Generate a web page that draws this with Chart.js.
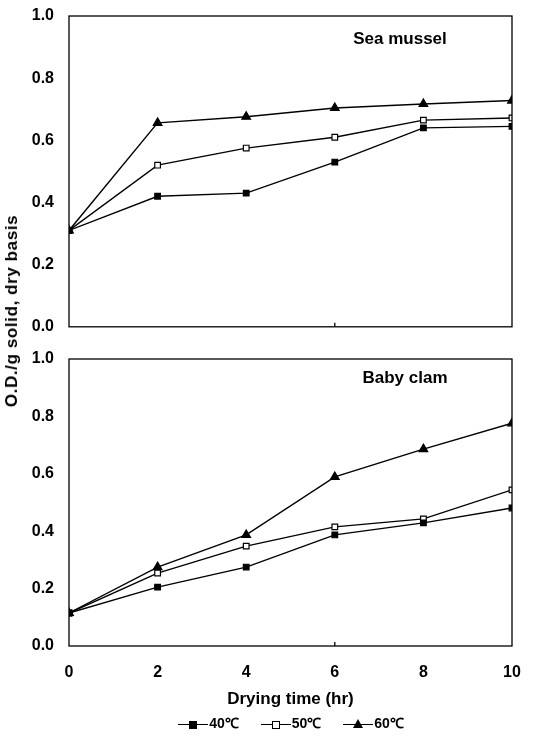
<!DOCTYPE html>
<html>
<head>
<meta charset="utf-8">
<script src="https://cdn.jsdelivr.net/npm/chart.js@4"></script>
<style>
  body { margin: 0; background: #fff; }
  #wrap { position: relative; width: 536px; height: 737px; font-family: "Liberation Sans", Arial, sans-serif; }
  #topBox { position: absolute; left: 0; top: 0; width: 536px; height: 333px; }
  #botBox { position: absolute; left: 0; top: 330px; width: 536px; height: 385px; }
  #yTitle {
    position: absolute; left: 12px; top: 311px;
    transform: translate(-50%, -50%) rotate(-90deg);
    white-space: nowrap; font-weight: bold; font-size: 17px; letter-spacing: 0.6px; color: #000;
  }
  #legend {
    position: absolute; left: 0; top: 713px; width: 536px; text-align: center;
    font-weight: bold; font-size: 14px; color: #000;
    padding-left: 46px; box-sizing: border-box;
  }
  .item { display: inline-block; margin: 0 9px; vertical-align: middle; }
  .key { display: inline-block; position: relative; width: 30px; height: 12px; vertical-align: middle; margin-right: 1px; }
  .key .ln { position: absolute; left: 0; right: 0; top: 6px; border-top: 1.4px solid #000; }
  .key .mk { position: absolute; left: 11px; top: 2.5px; width: 8px; height: 8px; box-sizing: border-box; }
  .sq { background: #000; }
  .osq { background: #fff; border: 1.3px solid #000; }
  .tri { width: 0 !important; height: 0 !important; left: 10px !important; top: 1px !important;
         border-left: 5px solid transparent; border-right: 5px solid transparent; border-bottom: 9px solid #000; }
</style>
</head>
<body>
<div id="wrap">
  <div id="topBox"><canvas id="topChart"></canvas></div>
  <div id="botBox"><canvas id="botChart"></canvas></div>
  <div id="yTitle">O.D./g solid, dry basis</div>
  <div id="legend">
    <span class="item"><span class="key"><span class="ln"></span><span class="mk sq"></span></span>40℃</span>
    <span class="item"><span class="key"><span class="ln"></span><span class="mk osq"></span></span>50℃</span>
    <span class="item"><span class="key"><span class="ln"></span><span class="mk tri"></span></span>60℃</span>
  </div>
</div>
<script>
// Data
const dryingTime = [0, 2, 4, 6, 8, 10];
const seriesLabels = ['40℃', '50℃', '60℃'];

const musselT40 = [0.31, 0.42, 0.43, 0.53, 0.64, 0.645];
const musselT50 = [0.31, 0.52, 0.575, 0.61, 0.665, 0.672];
const musselT60 = [0.31, 0.656, 0.676, 0.704, 0.717, 0.728];

const clamT40 = [0.115, 0.205, 0.275, 0.387, 0.429, 0.481];
const clamT50 = [0.115, 0.254, 0.348, 0.415, 0.443, 0.544];
const clamT60 = [0.115, 0.275, 0.387, 0.589, 0.686, 0.776];

const yTicks = [0, 0.2, 0.4, 0.6, 0.8, 1.0];
const xTicks = [0, 2, 4, 6, 8, 10];

const FONT = '"Liberation Sans", Arial, sans-serif';

function makeDatasets(a, b, c) {
    const vals = [a, b, c];
    const styles = [
        { pointStyle: 'rect', bg: '#000', r: 4 },
        { pointStyle: 'rect', bg: '#fff', r: 4 },
        { pointStyle: 'triangle', bg: '#000', r: 5 }
    ];
    return vals.map((v, i) => ({
        label: seriesLabels[i],
        data: dryingTime.map((t, j) => ({ x: t, y: v[j] })),
        borderColor: '#000',
        borderWidth: 1.4,
        pointStyle: styles[i].pointStyle,
        pointRadius: styles[i].r,
        pointBackgroundColor: styles[i].bg,
        pointBorderColor: '#000',
        pointBorderWidth: 1.2,
        tension: 0
    }));
}

// draws the frame and the panel name inside the plot
const frameLabel = {
    id: 'frameLabel',
    afterDraw(chart, args, opts) {
        const { ctx, chartArea } = chart;
        ctx.save();
        ctx.strokeStyle = '#000';
        ctx.lineWidth = 1.3;
        ctx.strokeRect(chartArea.left, chartArea.top, chartArea.right - chartArea.left, chartArea.bottom - chartArea.top);
        // small tick at x = 6 on the bottom edge, as in the figure
        const x6 = chart.scales.x.getPixelForValue(6);
        ctx.beginPath();
        ctx.moveTo(x6, chartArea.bottom);
        ctx.lineTo(x6, chartArea.bottom - 4);
        ctx.stroke();
        ctx.fillStyle = '#000';
        ctx.font = 'bold 17px ' + FONT;
        ctx.textAlign = 'center';
        ctx.textBaseline = 'middle';
        ctx.fillText(opts.text, opts.x, chartArea.top + opts.dy);
        ctx.restore();
    }
};

function makeOptions(isBottom, panelName, labelX, labelDy) {
    return {
        responsive: true,
        maintainAspectRatio: false,
        animation: false,
        layout: { padding: { left: 0, right: 24, top: isBottom ? 29 : 16, bottom: 0 } },
        plugins: {
            legend: { display: false },
            tooltip: { enabled: false },
            frameLabel: { text: panelName, x: labelX, dy: labelDy }
        },
        scales: {
            x: {
                type: 'linear',
                min: 0, max: 10,
                afterBuildTicks: (s) => { s.ticks = xTicks.map(v => ({ value: v })); },
                afterFit: (s) => {
                    s.height = isBottom ? 69 : 3;
                    s.paddingLeft = 0; s.paddingRight = 0; s.paddingTop = 0; s.paddingBottom = 0;
                },
                grid: { display: false, drawTicks: false },
                border: { display: false },
                ticks: {
                    display: isBottom,
                    padding: 17,
                    color: '#000',
                    font: { family: FONT, size: 16, weight: 'bold' }
                },
                title: {
                    display: isBottom,
                    text: 'Drying time (hr)',
                    color: '#000',
                    padding: { top: 0, bottom: 5 },
                    font: { family: FONT, size: 17, weight: 'bold' }
                }
            },
            y: {
                min: 0, max: 1,
                afterBuildTicks: (s) => { s.ticks = yTicks.map(v => ({ value: v })); },
                afterFit: (s) => {
                    s.width = 69;
                    s.paddingTop = 0; s.paddingBottom = 0; s.paddingLeft = 0; s.paddingRight = 0;
                },
                grid: { display: false, drawTicks: false },
                border: { display: false },
                ticks: {
                    padding: 15,
                    color: '#000',
                    font: { family: FONT, size: 16, weight: 'bold' },
                    callback: (v) => v.toFixed(1)
                }
            }
        }
    };
}

new Chart(document.getElementById('topChart'), {
    type: 'line',
    data: { datasets: makeDatasets(musselT40, musselT50, musselT60) },
    options: makeOptions(false, 'Sea mussel', 400, 23),
    plugins: [frameLabel]
});

new Chart(document.getElementById('botChart'), {
    type: 'line',
    data: { datasets: makeDatasets(clamT40, clamT50, clamT60) },
    options: makeOptions(true, 'Baby clam', 405, 19),
    plugins: [frameLabel]
});
</script>
</body>
</html>
